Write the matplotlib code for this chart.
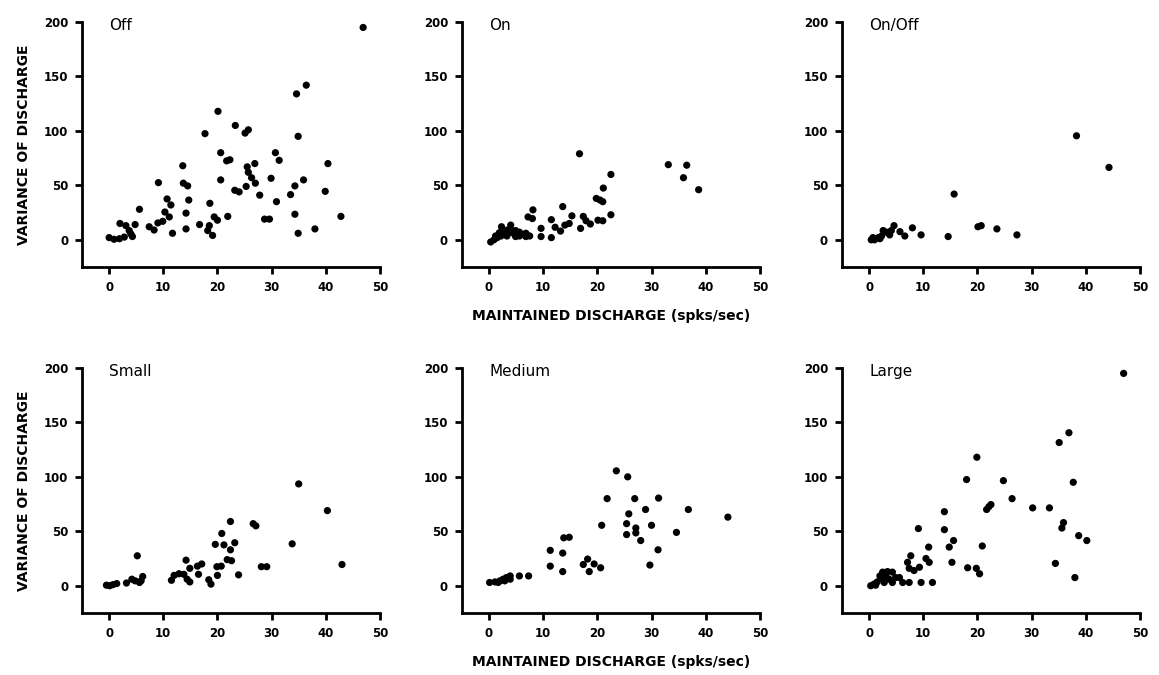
"""Six-panel scatter: variance of discharge vs maintained discharge by cell class."""

import matplotlib

matplotlib.use("Agg")
import matplotlib.pyplot as plt

off_x = [46.9, 36.4, 34.6, 20.1, 23.3, 25.1, 25.7, 17.7, 34.9, 20.6, 30.7, 21.7, 22.3,
         26.9, 31.4, 40.4, 13.6, 25.5, 25.7, 26.3, 27.0, 20.6, 29.9, 35.9, 9.1, 13.7,
         14.5, 34.3, 25.3, 23.2, 24.0, 39.9, 27.8, 33.5, 10.7, 14.7, 30.9, 18.6, 5.6,
         11.4, 10.3, 11.1, 14.2, 34.3, 21.9, 42.8, 19.4, 20.0, 28.7, 29.6, 9.9, 9.0,
         16.7, 4.8, 2.0, 3.1, 7.4, 8.3, 14.2, 38.0, 18.5, 18.2, 19.1, 11.7, 34.9, 4.0,
         3.7, 0.0, 0.9, 1.9, 2.8, 4.3]
off_y = [195, 142, 134, 118, 105, 98, 101, 97.5, 95, 80, 80, 72.5, 73.5,
         70, 73, 70, 68, 67, 62, 57, 52, 55, 56.5, 55, 52.5, 52,
         49.5, 49.5, 49, 45.5, 44, 44.5, 41, 41.5, 37.5, 36.5, 35, 33.5, 28,
         32, 25.5, 21, 24.5, 23.5, 21.5, 21.5, 21, 18, 19, 19, 17, 15.5,
         14, 14, 15, 13, 12, 9, 10, 10, 13, 8.5, 4, 6, 6, 5.5,
         8.5, 2, 0.5, 1, 2.5, 3]

on_x = [16.7, 33.1, 36.5, 35.9, 38.7, 22.5, 21.1, 19.8, 20.5, 21.0, 13.6, 8.1, 7.2,
        8.0, 15.3, 17.4, 17.9, 18.7, 22.5, 20.1, 21.0, 11.5, 12.2, 13.2, 14.0, 14.8,
        16.9, 9.6, 9.6, 11.5, 0.3, 0.9, 1.5, 2.2, 2.3, 2.8, 3.4, 4.0, 4.3, 4.9, 5.6,
        6.2, 6.8, 7.5, 5.6, 3.3, 1.2, 1.9, 4.0, 4.9, 6.8]
on_y = [79, 69, 68.5, 57, 46, 60, 47.5, 38, 36.5, 35, 30.5, 27.5, 21,
        19.5, 22, 21.5, 17.5, 14.5, 23, 18, 17.5, 18.5, 11.5, 8, 13.5, 15,
        10.5, 10.5, 3, 2, -2, 0, 2, 3.5, 12, 6.5, 9, 13.5, 6.5, 8.5, 7,
        5, 6, 3.5, 3.5, 3.5, 3.5, 6.5, 9, 3, 3]

onoff_x = [38.3, 44.3, 15.7, 20.1, 20.7, 23.6, 27.3, 14.6, 9.6, 8.0, 6.6, 5.7, 4.6,
           4.1, 3.8, 3.2, 2.6, 2.3, 1.7, 1.0, 0.4, 0.7, 2.0]
onoff_y = [95.5, 66.5, 42, 12, 13, 10, 4.5, 3, 4.5, 11, 3.5, 7.5, 13,
           8.5, 4.5, 7, 8.5, 3.5, 2, 0, 0, 2, 1]

small_x = [35.0, 40.3, 22.4, 26.6, 27.1, 20.8, 23.2, 33.8, 19.6, 21.2, 22.4, 5.2, 14.2,
           21.8, 22.6, 14.9, 16.3, 17.1, 19.9, 20.7, 28.1, 29.1, 43.0, 16.5, 23.9, 20.0,
           18.4, 18.8, 12.0, 12.9, 13.8, 14.4, 14.9, 11.5, 6.2, 5.9, 4.8, 4.2, 3.2, 5.6,
           -0.5, 0.1, 0.7, 1.4]
small_y = [93.5, 69, 59, 57, 55, 48, 39.5, 38.5, 38, 37.5, 33, 27.5, 23.5,
           24, 23, 16, 18, 20, 17.5, 18, 17.5, 17.5, 19.5, 10.5, 10, 9.5,
           5.5, 1.5, 9.5, 11, 10.5, 6, 3.5, 5, 8.5, 4.5, 4.5, 6, 2.5, 3,
           0.5, 0, 1, 2]

medium_x = [23.5, 25.6, 21.8, 26.9, 31.3, 28.9, 36.8, 44.1, 25.8, 25.4, 20.8, 30.0, 27.1,
            27.1, 25.4, 34.6, 28.0, 13.8, 14.8, 31.2, 11.3, 13.6, 18.2, 17.4, 19.4, 20.6,
            18.5, 11.3, 13.6, 29.7, 7.3, 5.6, 3.9, 3.2, 2.6, 2.0, 1.1, 0.1, 3.9, 2.9, 1.7]
medium_y = [105.5, 100, 80, 80, 80.5, 70, 70, 63, 66, 57, 55.5, 55.5, 53,
            48.5, 47, 49, 41.5, 44, 44.5, 33, 32.5, 30, 24.5, 19.5, 20, 16.5,
            13, 18, 13, 19, 9, 9, 9, 7.5, 6, 4.5, 3.5, 3, 6, 4.5, 3]

large_x = [47.0, 36.9, 35.1, 19.9, 18.0, 24.8, 37.7, 26.4, 30.2, 33.3, 22.1, 22.5, 21.7,
           13.9, 35.9, 35.6, 9.1, 13.9, 38.7, 40.2, 15.6, 14.8, 20.9, 11.0, 15.3, 34.4,
           7.7, 7.1, 10.5, 11.1, 9.3, 8.3, 7.4, 18.2, 19.8, 20.4, 38.0, 11.7, 9.6, 7.4,
           6.2, 0.3, 0.9, 1.5, 2.0, 2.5, 3.4, 4.3, 4.9, 5.6, 3.7, 2.8, 4.3, 3.1, 2.2, 1.2]
large_y = [195, 140.5, 131.5, 118, 97.5, 96.5, 95, 80, 71.5, 71.5, 72.5, 74.5, 70,
           68, 58, 53, 52.5, 51.5, 46, 41.5, 41.5, 35.5, 36.5, 35.5, 21.5, 20.5,
           27.5, 21.5, 25, 21.5, 17, 14, 16, 16.5, 16, 11, 7.5, 3, 3, 3,
           3, 0, 1.5, 3.5, 9, 12.5, 13, 12.5, 7.5, 7.5, 6, 3, 3, 9, 7, 0.5]

panels = [
    ("Off", off_x, off_y),
    ("On", on_x, on_y),
    ("On/Off", onoff_x, onoff_y),
    ("Small", small_x, small_y),
    ("Medium", medium_x, medium_y),
    ("Large", large_x, large_y),
]

x_ticks = [0, 10, 20, 30, 40, 50]
y_ticks = [0, 50, 100, 150, 200]

fig = plt.figure(figsize=(11.59, 6.75), dpi=100)
lefts = [0.0708, 0.3986, 0.7265]
bottoms = [0.6044, 0.0919]
w, h = 0.257, 0.3630

for i, (name, xs, ys) in enumerate(panels):
    row, col = divmod(i, 3)
    ax = fig.add_axes([lefts[col], bottoms[row], w, h])
    ax.scatter(xs, ys, s=27, color="black", edgecolors="none", zorder=3)
    ax.set_xlim(-5, 50)
    ax.set_ylim(-25, 200)
    ax.set_xticks(x_ticks)
    ax.set_yticks(y_ticks)
    ax.spines["top"].set_visible(False)
    ax.spines["right"].set_visible(False)
    for s in ("left", "bottom"):
        ax.spines[s].set_linewidth(2.0)
    ax.tick_params(direction="out", length=5, width=2, labelsize=8.5, pad=5)
    for lbl in ax.get_xticklabels() + ax.get_yticklabels():
        lbl.set_fontweight("heavy")
    ax.text(0, 197, name, fontsize=11, ha="left", va="center")
    if col == 0:
        ax.set_ylabel("VARIANCE OF DISCHARGE", fontsize=10, fontweight="heavy",
                      labelpad=9)
    if col == 1:
        ax.set_xlabel("MAINTAINED DISCHARGE (spks/sec)", fontsize=10,
                      fontweight="heavy", labelpad=11)

fig.savefig("out.png", dpi=100)
plt.close(fig)
